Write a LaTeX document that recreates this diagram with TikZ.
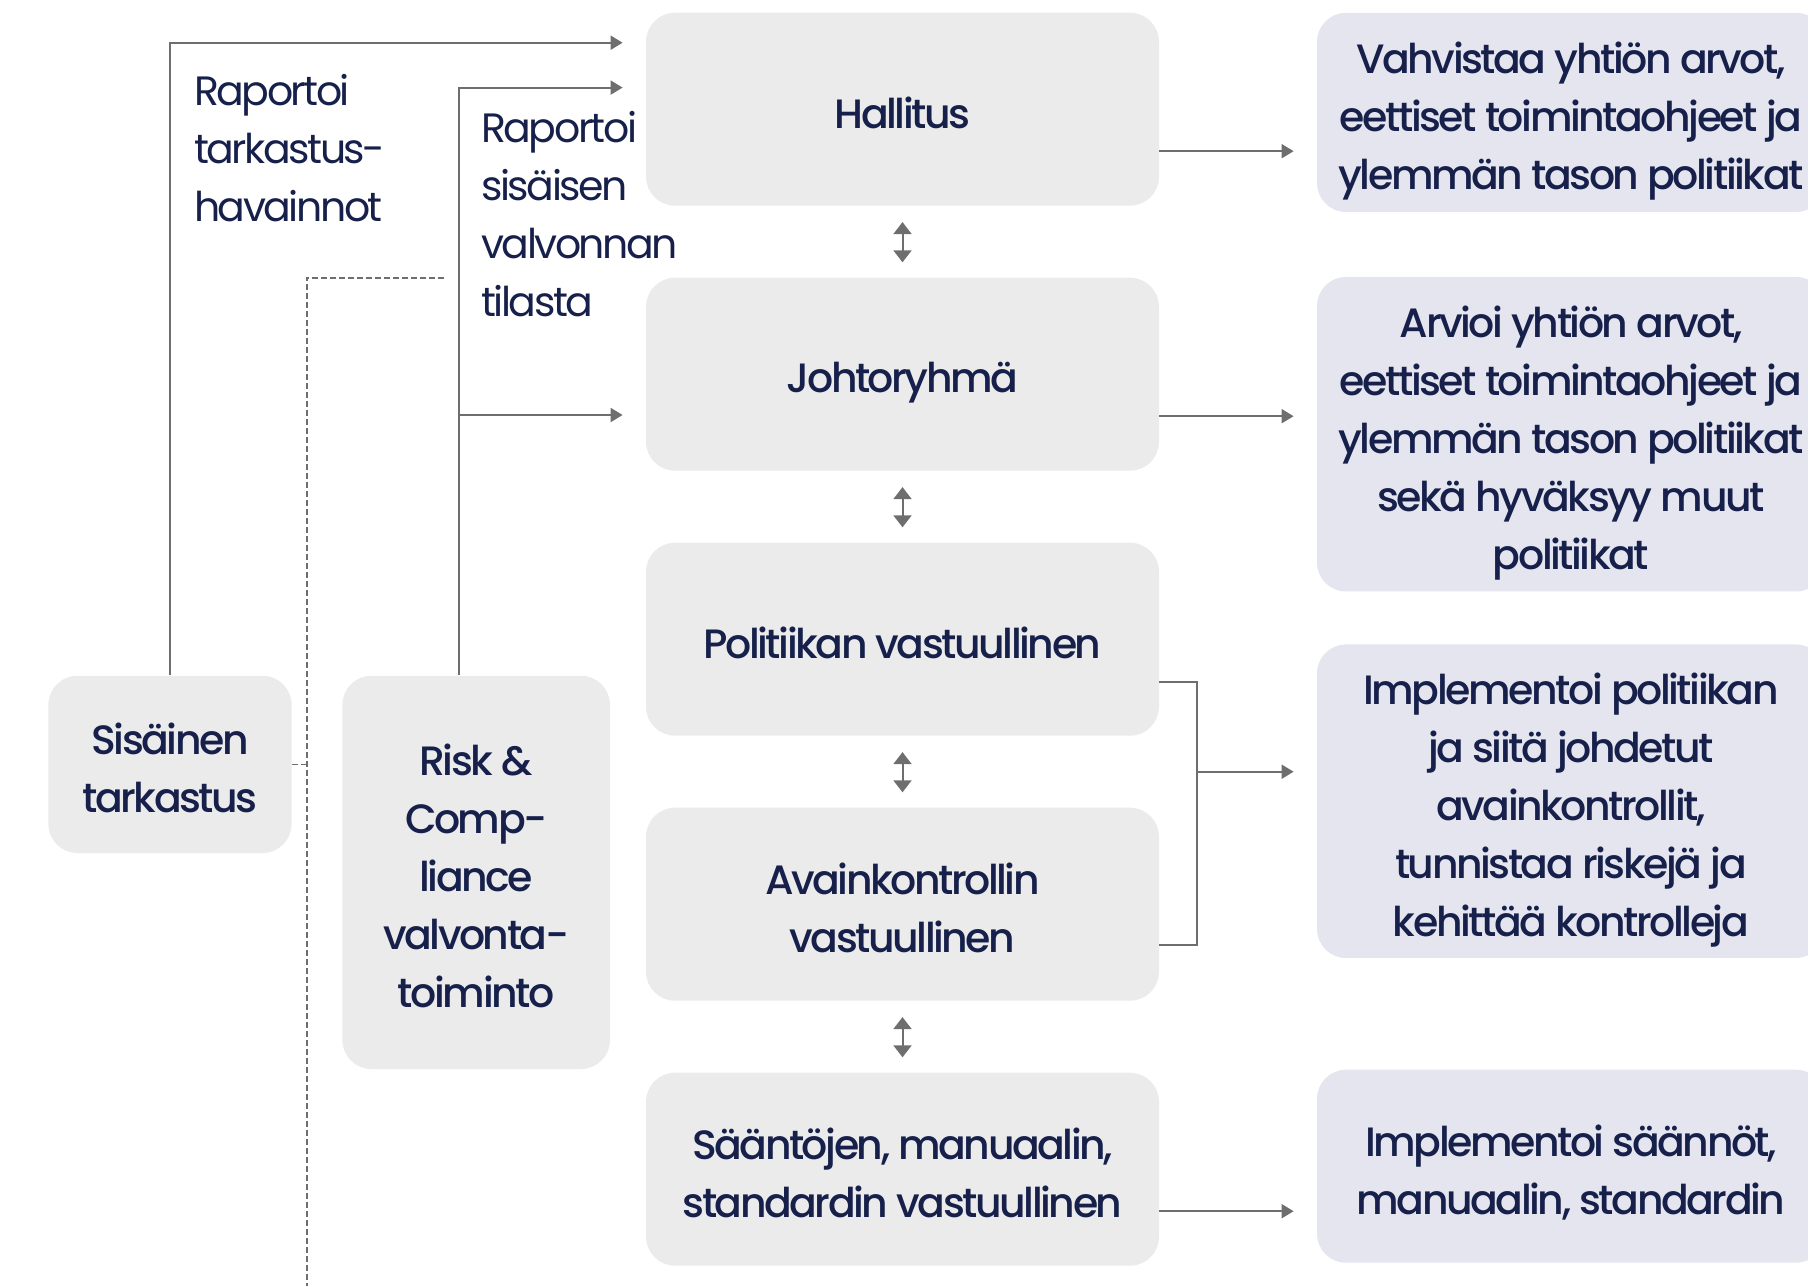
\documentclass[tikz,border=0pt]{standalone}
\usepackage{fontspec}
\setmainfont[LetterSpace=-6]{Poppins}
\newfontfamily\boxfont[LetterSpace=-6]{Poppins Medium}
\usepackage{tikz}
\usetikzlibrary{arrows.meta, calc}

\definecolor{navy}{HTML}{16204A}
\definecolor{levelgray}{HTML}{EBEBEB}
\definecolor{taskgray}{HTML}{E4E5EE}
\definecolor{linegray}{HTML}{6E6E6E}
\newbox\textlift

\begin{document}
\begin{tikzpicture}[node distance=132.5pt, every node/.style={text=navy}]
\useasboundingbox (0,0) rectangle (904pt,-643pt);
% Styles
\tikzstyle{boxtext} = [align=center, font=\boxfont\fontsize{20.5pt}{29pt}\selectfont, text depth=0pt, execute at begin node={\setbox\textlift=\hbox\bgroup}, execute at end node={\egroup\ht\textlift=\dimexpr\ht\textlift+3.5pt\relax\box\textlift}]
\tikzstyle{level} = [rectangle, rounded corners=14.5pt, minimum width=256.5pt, minimum height=96.5pt, fill=levelgray, inner sep=3pt, boxtext]
\tikzstyle{task} = [rectangle, rounded corners=14.5pt, minimum width=254pt, minimum height=96.5pt, fill=taskgray, inner sep=2pt, boxtext]
\tikzstyle{report} = [align=left, inner sep=0pt, font=\fontsize{20.5pt}{29pt}\selectfont]
\tikzstyle{line} = [draw=linegray, line width=1pt]
\tikzstyle{arrow} = [line, -{Triangle[length=6pt,width=7pt]}, shorten >=11.5pt]
\tikzstyle{twoway} = [line, {Triangle[length=6pt,width=9pt]}-{Triangle[length=6pt,width=9pt]}, shorten <=8pt, shorten >=7.5pt]
\tikzstyle{dashline} = [draw=linegray, line width=0.9pt, dash pattern=on 3pt off 1.5pt]

% Nodes
\node (hallitus) [level] at (451.25pt,-54.6pt) {Hallitus};
\node (johtoryhma) [level, below of=hallitus] {Johtoryhmä};
\node (politiikka) [level, below of=johtoryhma] {Politiikan vastuullinen};
\node (avain) [level, below of=politiikka] {Avainkontrollin\\vastuullinen};
\node (saannot) [level, below of=avain] {Sääntöjen, manuaalin,\\standardin vastuullinen};

\node (vahvistaa) [task, minimum height=99.6pt, right of=hallitus, xshift=201.75pt, yshift=-1.6pt] {Vahvistaa yhtiön arvot,\\eettiset toimintaohjeet ja\\ylemmän tason politiikat};
\node (arvioi) [task, minimum height=157.25pt, right of=johtoryhma, xshift=201.75pt, yshift=-30pt] {Arvioi yhtiön arvot,\\eettiset toimintaohjeet ja\\ylemmän tason politiikat\\sekä hyväksyy muut\\politiikat};
\node (implementoi_pol) [task, minimum height=156.75pt, right of=politiikka, xshift=201.75pt, yshift=-81pt] {Implementoi politiikan\\ja siitä johdetut\\avainkontrollit,\\tunnistaa riskejä ja\\kehittää kontrolleja};
\node (implementoi_saan) [task, right of=saannot, xshift=201.75pt, yshift=1.5pt] {Implementoi säännöt,\\manuaalin, standardin};

\node (sisainen) [level, minimum width=121.6pt, minimum height=88.65pt] at (85pt,-382.2pt) {Sisäinen\\tarkastus};
\node (risk) [level, minimum width=133.8pt, minimum height=196.65pt] at (238.1pt,-436.2pt) {Risk \&\\Comp-\\liance\\valvonta-\\toiminto};

\node (raportoi_tark) [report, anchor=west] at (96.85pt,-73.8pt) {Raportoi\\tarkastus-\\havainnot};
\node (raportoi_sis) [report, anchor=west] at (240.4pt,-106.9pt) {Raportoi\\sisäisen\\valvonnan\\tilasta};

% Arrows
\draw [twoway] (hallitus) -- (johtoryhma);
\draw [twoway] (johtoryhma) -- (politiikka);
\draw [twoway] (politiikka) -- (avain);
\draw [twoway] (avain) -- (saannot);

\coordinate (h_out) at ([yshift=-21pt]hallitus.east);
\coordinate (j_out) at ([yshift=-21pt]johtoryhma.east);
\coordinate (s_out) at ([yshift=-21pt]saannot.east);
\draw [arrow] (h_out) -- (h_out -| vahvistaa.west);
\draw [arrow] (j_out) -- (j_out -| arvioi.west);
\draw [arrow] (s_out) -- (s_out -| implementoi_saan.west);

% Bracket to the shared task
\coordinate (p_out) at ([yshift=-21.5pt]politiikka.east);
\coordinate (a_out) at ([yshift=-20.5pt]avain.east);
\coordinate (b_top) at ([xshift=19pt]p_out);
\coordinate (b_mid) at ($(politiikka.south)!0.5!(avain.north)$);
\draw [line] (p_out) -- (b_top) |- (a_out);
\draw [arrow] (b_top |- b_mid) -- (b_mid -| implementoi_pol.west);

% Reporting lines
\coordinate (h_in1) at ([yshift=33.25pt]hallitus.west);
\coordinate (h_in2) at ([yshift=10.8pt]hallitus.west);
\coordinate (j_in) at ([yshift=-20.4pt]johtoryhma.west);
\coordinate (r_up) at ([xshift=-8.6pt]risk.north);
\draw [arrow] (sisainen.north) |- (h_in1);
\draw [arrow] (r_up) |- (h_in2);
\draw [arrow] (r_up |- j_in) -- (j_in);

% Dashed line
\coordinate (d1) at (222pt,-138.85pt);
\coordinate (d2) at (153.35pt,-138.85pt);
\coordinate (d3) at (153.35pt,-643pt);
\draw [dashline] (d1) -- (d2) -- (d3);
\draw [dashline] (sisainen.east) -- (sisainen.east -| d2);
\end{tikzpicture}
\end{document}
